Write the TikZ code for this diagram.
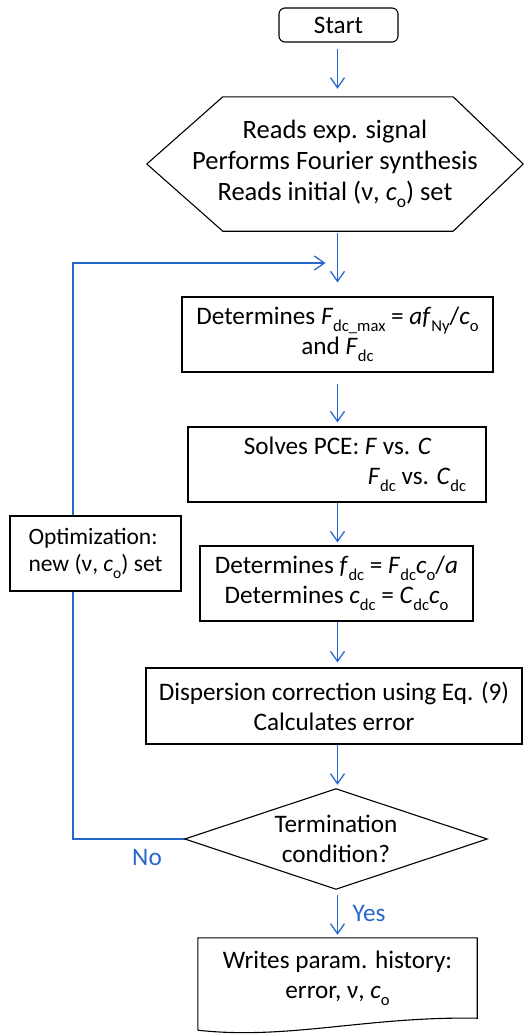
\documentclass[tikz,border=0pt]{standalone}
\usepackage{fontspec}
\setmainfont{Carlito}
\usetikzlibrary{arrows.meta,calc,backgrounds}
\definecolor{flowblue}{RGB}{38,103,206}
\newcommand\lo[1]{\raisebox{-0.28em}{\fontsize{0.66em}{0.66em}\selectfont #1}}
\begin{document}
\begin{tikzpicture}[x=1pt,y=-1pt,
  font=\fontsize{25.2}{30}\selectfont,
  box/.style={draw, fill=white, line width=1.1pt, minimum width=#1, minimum height=75pt, inner sep=0pt, align=center},
  txt/.style={inner sep=0pt, align=center},
  outline/.style={draw, line width=1.1pt},
  flow/.style={draw=flowblue, line width=1.3pt, -{Straight Barb[length=10pt,width=14pt]}},
  lab/.style={text=flowblue, inner sep=0pt}]
\useasboundingbox (0,0) rectangle (526,1036);

\coordinate (col) at (337.5,0);

\node[box=119pt, minimum height=34pt, rounded corners=6pt] (start) at (338.5,25) {Start};

\node[txt, minimum width=376pt, minimum height=134pt, font=\fontsize{26.5}{31}\selectfont] (hex) at (335,164)
  {Reads exp. signal\\Performs Fourier synthesis\\Reads initial (ν, \textit{c}\lo{o}) set};
\draw[outline] (hex.west) -- ($(hex.north west)+(76,0)$) -- ($(hex.north east)+(-70,0)$)
  -- (hex.east) -- ($(hex.south east)+(-70,0)$) -- ($(hex.south west)+(76,0)$) -- cycle;

\node[box=311pt] (b1) at (337.5,334.5)
  {Determines \textit{F}\lo{dc\_max} = \textit{af}\lo{Ny}/\textit{c}\lo{o}\\and \textit{F}\lo{dc}};

\node[box=298pt, align=left] (b2) at (337,464.5)
  {\hspace*{36pt}Solves PCE: \textit{F} vs. \textit{C}\\\hspace*{160pt}\textit{F}\lo{dc} vs. \textit{C}\lo{dc}};

\node[box=171pt, align=left, font=\fontsize{23.5}{27}\selectfont] (opt) at (95.5,553.5) {Optimization:\\new (ν, \textit{c}\lo{o}) set};

\node[box=273pt] (b3) at (336.5,583.5)
  {Determines \textit{f}\lo{dc} = \textit{F}\lo{dc}\textit{c}\lo{o}/\textit{a}\\Determines \textit{c}\lo{dc} = \textit{C}\lo{dc}\textit{c}\lo{o}};

\node[box=376pt, minimum height=76pt] (b4) at (334,706)
  {Dispersion correction using Eq. (9)\\Calculates error};

\node[txt, minimum width=302pt, minimum height=100pt] (dia) at (336,839) {Termination\\condition?};
\draw[outline] (dia.north) -- (dia.east) -- (dia.south) -- (dia.west) -- cycle;

\node[txt, minimum width=279pt, minimum height=80pt] (doc) at (337.5,978)
  {Writes param. history:\\error, ν, \textit{c}\lo{o}};
\draw[outline] ($(doc.south west)+(0,12)$) -- (doc.north west) -- (doc.north east) -- (doc.south east)
  .. controls +(-110,-2) and +(90,10) .. ($(doc.south west)+(0,12)$);

\draw[flow, shorten <=6pt, shorten >=8pt] (col |- start.south) -- (col |- hex.north);
\draw[flow, shorten <=2pt, shorten >=14pt] (col |- hex.south) -- (col |- b1.north);
\draw[flow, shorten <=11pt, shorten >=4pt] (col |- b1.south) -- (col |- b2.north);
\draw[flow, shorten >=3pt] (col |- b2.south) -- (col |- b3.north);
\draw[flow, shorten >=5pt] (col |- b3.south) -- (col |- b4.north);
\draw[flow, shorten >=4pt] (col |- b4.south) -- (col |- dia.north);
\draw[flow, shorten <=6pt, shorten >=3pt] (col |- dia.south) -- (col |- doc.north);

\coordinate (loopx) at (73,0);
\coordinate (joinY) at (0,263);
\coordinate (join) at (col |- joinY);
\begin{scope}[on background layer]
\draw[flow, shorten >=12pt] (dia.west) -- (dia.west -| loopx) -- (loopx |- joinY) -- (join);
\end{scope}

\node[lab] (no) at (147,857) {No};
\node[lab] (yes) at (369,913) {Yes};
\end{tikzpicture}
\end{document}
